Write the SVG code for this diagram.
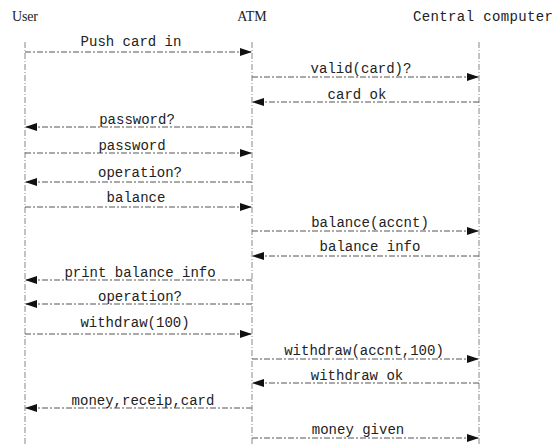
<svg xmlns="http://www.w3.org/2000/svg" width="560" height="446" viewBox="0 0 560 446">
<style>
.hdr{font-family:"Liberation Serif","Times New Roman",serif;font-size:14px;fill:#222}
.mono{font-family:"Liberation Mono","DejaVu Sans Mono",monospace;font-size:14px;fill:#222}
.lbl{font-family:"Liberation Mono","DejaVu Sans Mono",monospace;font-size:14px;fill:#222;text-anchor:middle}
.life{stroke:#888;stroke-width:1;stroke-dasharray:6 2 1 2;fill:none}
.msg{stroke:#555;stroke-width:1;stroke-dasharray:6 2 2 2;fill:none;marker-end:url(#ah)}
</style>
<defs>
<marker id="ah" markerUnits="userSpaceOnUse" markerWidth="12" markerHeight="8" refX="12" refY="4" orient="auto">
<path d="M0,0 L12,4 L0,8 z" fill="#111"/>
</marker>
</defs>
<rect width="560" height="446" fill="#fff"/>
<g id="user">
<text class="hdr" x="12" y="21" textLength="26">User</text>
<line class="life" x1="25" y1="42" x2="25" y2="446"/>
</g>
<g id="atm">
<text class="hdr" x="252" y="21" text-anchor="middle">ATM</text>
<line class="life" x1="252" y1="42" x2="252" y2="446"/>
</g>
<g id="central">
<text class="mono" x="413" y="21" textLength="140">Central computer</text>
<line class="life" x1="479" y1="42" x2="479" y2="446"/>
</g>
<g id="connectors">
<line class="msg" x1="25" y1="52" x2="252" y2="52"/>
<text class="lbl" x="131" y="46">Push card in</text>
<line class="msg" x1="252" y1="77" x2="479" y2="77"/>
<text class="lbl" x="361" y="73">valid(card)?</text>
<line class="msg" x1="479" y1="102" x2="252" y2="102"/>
<text class="lbl" x="357" y="99">card ok</text>
<line class="msg" x1="252" y1="127" x2="25" y2="127"/>
<text class="lbl" x="137" y="124">password?</text>
<line class="msg" x1="25" y1="153" x2="252" y2="153"/>
<text class="lbl" x="132" y="150">password</text>
<line class="msg" x1="252" y1="182" x2="25" y2="182"/>
<text class="lbl" x="140" y="177">operation?</text>
<line class="msg" x1="25" y1="207" x2="252" y2="207"/>
<text class="lbl" x="136" y="202">balance</text>
<line class="msg" x1="252" y1="231" x2="479" y2="231"/>
<text class="lbl" x="370" y="227">balance(accnt)</text>
<line class="msg" x1="479" y1="256" x2="252" y2="256"/>
<text class="lbl" x="370" y="251">balance info</text>
<line class="msg" x1="252" y1="280" x2="25" y2="280"/>
<text class="lbl" x="140" y="277">print balance info</text>
<line class="msg" x1="252" y1="304" x2="25" y2="304"/>
<text class="lbl" x="140" y="301">operation?</text>
<line class="msg" x1="25" y1="334" x2="252" y2="334"/>
<text class="lbl" x="135" y="327">withdraw(100)</text>
<line class="msg" x1="252" y1="359" x2="479" y2="359"/>
<text class="lbl" x="364" y="355">withdraw(accnt,100)</text>
<line class="msg" x1="479" y1="383" x2="252" y2="383"/>
<text class="lbl" x="357" y="380">withdraw ok</text>
<line class="msg" x1="252" y1="408" x2="25" y2="408"/>
<text class="lbl" x="143" y="405">money,receip,card</text>
<line class="msg" x1="252" y1="438" x2="479" y2="438"/>
<text class="lbl" x="358" y="434">money given</text>
</g>
</svg>
